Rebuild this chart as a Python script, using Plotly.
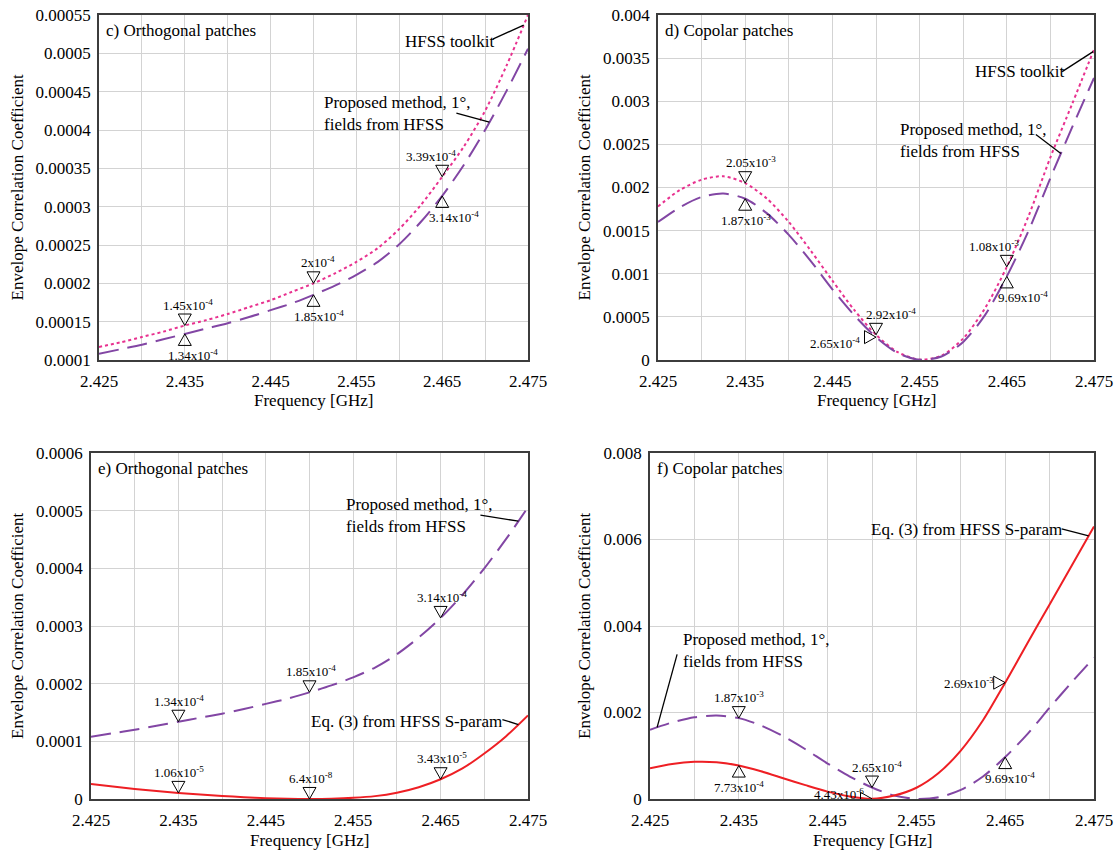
import numpy as np
import plotly.graph_objects as go

# ---------------- data ----------------
freq = [2.425, 2.4275, 2.43, 2.4325, 2.435, 2.4375, 2.44, 2.4425, 2.445, 2.4475,
        2.45, 2.4525, 2.455, 2.4575, 2.46, 2.4625, 2.465, 2.4675, 2.47, 2.4725, 2.475]

ortho_hfss = [0.000117, 0.000123, 0.000130, 0.000137, 0.000145, 0.000152, 0.000160, 0.000169, 0.000178, 0.000189,
              0.000200, 0.000213, 0.000228, 0.000246, 0.000271, 0.000302, 0.000339, 0.000378, 0.000425, 0.000484, 0.000550]
ortho_proposed = [0.000108, 0.000114, 0.000120, 0.000127, 0.000134, 0.000141, 0.000148, 0.000156, 0.000165, 0.000174,
                  0.000185, 0.000197, 0.000211, 0.000228, 0.000251, 0.000280, 0.000314, 0.000354, 0.000400, 0.000451, 0.000506]
ortho_eq3 = [0.0000260, 0.0000215, 0.0000175, 0.0000138, 0.0000106, 0.0000078, 0.0000053, 0.0000032, 0.0000015, 0.0000004,
             0.000000064, 0.0000005, 0.0000020, 0.0000050, 0.0000110, 0.0000205, 0.0000343, 0.0000530, 0.0000790, 0.0001090, 0.0001450]

copol_hfss = [0.00178, 0.00197, 0.00209, 0.00213, 0.00205, 0.00187, 0.00160, 0.00127, 0.00092, 0.00058,
              0.000292, 0.00009, 0.000005, 0.00005, 0.00025, 0.00060, 0.00108, 0.00167, 0.00235, 0.00297, 0.00360]
copol_proposed = [0.00160, 0.00177, 0.00189, 0.00193, 0.00187, 0.00170, 0.00145, 0.00115, 0.00082, 0.00052,
                  0.000265, 0.00008, 0.000003, 0.00004, 0.00021, 0.00052, 0.000969, 0.00150, 0.00211, 0.00270, 0.00327]
copol_eq3 = [0.00071, 0.00081, 0.00086, 0.00085, 0.000773, 0.00064, 0.00048, 0.00032, 0.00017, 0.00006,
             0.0000044, 0.00008, 0.00026, 0.00060, 0.00112, 0.00182, 0.00269, 0.00360, 0.00450, 0.00540, 0.00630]

x_tickvals = [2.425, 2.435, 2.445, 2.455, 2.465, 2.475]
x_ticktext = ["2.425", "2.435", "2.445", "2.455", "2.465", "2.475"]
x_minorvals = [2.43, 2.44, 2.45, 2.46, 2.47]

c_yticks = [0.0001, 0.00015, 0.0002, 0.00025, 0.0003, 0.00035, 0.0004, 0.00045, 0.0005, 0.00055]
c_ytext = ["0.0001", "0.00015", "0.0002", "0.00025", "0.0003", "0.00035", "0.0004", "0.00045", "0.0005", "0.00055"]
d_yticks = [0, 0.0005, 0.001, 0.0015, 0.002, 0.0025, 0.003, 0.0035, 0.004]
d_ytext = ["0", "0.0005", "0.001", "0.0015", "0.002", "0.0025", "0.003", "0.0035", "0.004"]
e_yticks = [0, 0.0001, 0.0002, 0.0003, 0.0004, 0.0005, 0.0006]
e_ytext = ["0", "0.0001", "0.0002", "0.0003", "0.0004", "0.0005", "0.0006"]
f_yticks = [0, 0.002, 0.004, 0.006, 0.008]
f_ytext = ["0", "0.002", "0.004", "0.006", "0.008"]

panel_titles = ["c) Orthogonal patches", "d) Copolar patches", "e) Orthogonal patches", "f) Copolar patches"]
x_title = "Frequency [GHz]"
y_title = "Envelope Correlation Coefficient"

# marker labels
c_hfss_labels = ["1.45x10<sup>-4</sup>", "2x10<sup>-4</sup>", "3.39x10<sup>-4</sup>"]
c_prop_labels = ["1.34x10<sup>-4</sup>", "1.85x10<sup>-4</sup>", "3.14x10<sup>-4</sup>"]
d_hfss_labels = ["2.05x10<sup>-3</sup>", "2.92x10<sup>-4</sup>", "1.08x10<sup>-3</sup>"]
d_prop_labels = ["1.87x10<sup>-3</sup>", "2.65x10<sup>-4</sup>", "9.69x10<sup>-4</sup>"]
e_prop_labels = ["1.34x10<sup>-4</sup>", "1.85x10<sup>-4</sup>", "3.14x10<sup>-4</sup>"]
e_eq3_labels = ["1.06x10<sup>-5</sup>", "6.4x10<sup>-8</sup>", "3.43x10<sup>-5</sup>"]
f_prop_labels = ["1.87x10<sup>-3</sup>", "2.65x10<sup>-4</sup>", "9.69x10<sup>-4</sup>"]
f_eq3_labels = ["7.73x10<sup>-4</sup>", "4.43x10<sup>-6</sup>", "2.69x10<sup>-3</sup>"]
marker_freqs = [2.435, 2.45, 2.465]

# ---------------- styling ----------------
W, H = 1116, 851
FONT = "'Liberation Serif', 'Times New Roman', Times, serif"
PINK = "#e8318f"
PURPLE = "#8246a4"
RED = "#ee1f24"
GRID = "#d3d3d3"
FRAME = "#3c3c3c"

# pixel boxes of the four plot areas: left, top, right, bottom
boxes = [(99, 15, 528, 360), (658, 15, 1094, 360), (91, 453, 528, 799), (650, 453, 1094, 799)]
ytitle_x = [17, 584, 17, 584]
yranges = [[0.0001, 0.00055], [0, 0.004], [0, 0.0006], [0, 0.008]]
yticks = [(c_yticks, c_ytext), (d_yticks, d_ytext), (e_yticks, e_ytext), (f_yticks, f_ytext)]

fig = go.Figure()


def ax_ids(k):
    s = "" if k == 0 else str(k + 1)
    return "x" + s, "y" + s


def add_curve(k, yvals, color, dash, width=2):
    xa, ya = ax_ids(k)
    fig.add_trace(go.Scatter(x=freq, y=yvals, mode="lines", xaxis=xa, yaxis=ya,
                             line=dict(color=color, width=width, dash=dash, shape="spline", smoothing=0.8),
                             hoverinfo="skip", showlegend=False))


DOT = "dot"
DASH = "20px,9px"
add_curve(0, ortho_hfss, PINK, DOT)
add_curve(0, ortho_proposed, PURPLE, DASH)
add_curve(1, copol_hfss, PINK, DOT)
add_curve(1, copol_proposed, PURPLE, DASH)
add_curve(2, ortho_proposed, PURPLE, DASH)
add_curve(2, ortho_eq3, RED, "solid")
add_curve(3, copol_proposed, PURPLE, DASH)
add_curve(3, copol_eq3, RED, "solid")

layout = dict(width=W, height=H, margin=dict(l=0, r=0, t=0, b=0, autoexpand=False),
              paper_bgcolor="white", plot_bgcolor="white", showlegend=False,
              font=dict(family=FONT, size=17, color="black"))

shapes = []
annotations = []
TFONT = dict(family=FONT, size=17, color="black")

for k, (l, t, r, b) in enumerate(boxes):
    xa, ya = ax_ids(k)
    xkey = "xaxis" + ("" if k == 0 else str(k + 1))
    ykey = "yaxis" + ("" if k == 0 else str(k + 1))
    layout[xkey] = dict(domain=[l / W, r / W], anchor=ya, range=[2.425, 2.475], automargin=False,
                        tickmode="array", tickvals=x_tickvals, ticktext=x_ticktext,
                        minor=dict(tickmode="array", tickvals=x_minorvals, showgrid=True,
                                   gridcolor=GRID, gridwidth=1, ticks=""),
                        showgrid=True, gridcolor=GRID, gridwidth=1, zeroline=False,
                        showline=True, mirror=True, linecolor=FRAME, linewidth=1.5,
                        ticks="", ticklabelstandoff=5, tickfont=TFONT)
    tv, tt = yticks[k]
    layout[ykey] = dict(domain=[1 - b / H, 1 - t / H], anchor=xa, range=yranges[k], automargin=False,
                        tickmode="array", tickvals=tv, ticktext=tt,
                        showgrid=True, gridcolor=GRID, gridwidth=1, zeroline=False,
                        showline=True, mirror=True, linecolor=FRAME, linewidth=1.5,
                        ticks="", ticklabelstandoff=3, tickfont=TFONT)
    # axis titles
    annotations.append(dict(text=x_title, xref="paper", yref="paper", x=(l + r) / 2 / W,
                            y=1 - (b + 41) / H, xanchor="center", yanchor="middle",
                            showarrow=False, font=TFONT))
    annotations.append(dict(text=y_title, xref="paper", yref="paper", x=ytitle_x[k] / W,
                            y=1 - (t + b) / 2 / H, xanchor="center", yanchor="middle", textangle=-90,
                            showarrow=False, font=TFONT))

fig.update_layout(**layout)

# panel titles
for k, title in enumerate(panel_titles):
    xa, ya = ax_ids(k)
    annotations.append(dict(text=title, xref=xa + " domain", yref=ya + " domain",
                            x=0.012, y=0.955, xanchor="left", yanchor="middle", showarrow=False,
                            font=TFONT))

TRI_PATHS = {
    "down": "M-6.5,11.5 L6.5,11.5 L0,0 Z",
    "up": "M-6.5,-11.5 L6.5,-11.5 L0,0 Z",
    "right": "M-11.5,-6.5 L-11.5,6.5 L0,0 Z",
}


def add_marker(k, series, fx, kind, label, dx=0, dy=0):
    xa, ya = ax_ids(k)
    yv = series[freq.index(fx)]
    shapes.append(dict(type="path", xref=xa, yref=ya, xsizemode="pixel", ysizemode="pixel",
                       xanchor=fx, yanchor=yv, path=TRI_PATHS[kind],
                       line=dict(color="black", width=1), fillcolor="rgba(0,0,0,0)"))
    a = dict(text=label, xref=xa, yref=ya, x=fx, y=yv, showarrow=False,
             font=dict(family=FONT, size=13, color="black"), borderpad=0)
    if kind == "down":
        a.update(xanchor="center", yanchor="bottom", yshift=12 + dy, xshift=dx)
    elif kind == "up":
        a.update(xanchor="center", yanchor="top", yshift=-12 + dy, xshift=dx)
    else:
        a.update(xanchor="right", yanchor="middle", xshift=-12 + dx, yshift=dy)
    annotations.append(a)


# c
for fx, lab, dx in zip(marker_freqs, c_hfss_labels, [3, 4, -11]):
    add_marker(0, ortho_hfss, fx, "down", lab, dx)
for fx, lab, dx in zip(marker_freqs, c_prop_labels, [8, 5, 12]):
    add_marker(0, ortho_proposed, fx, "up", lab, dx)
# d
add_marker(1, copol_hfss, 2.435, "down", d_hfss_labels[0], 6)
add_marker(1, copol_hfss, 2.45, "down", d_hfss_labels[1], 15)
add_marker(1, copol_hfss, 2.465, "down", d_hfss_labels[2], -13)
add_marker(1, copol_proposed, 2.435, "up", d_prop_labels[0], 1)
add_marker(1, copol_proposed, 2.45, "right", d_prop_labels[1], -3, -6)
add_marker(1, copol_proposed, 2.465, "up", d_prop_labels[2], 16)
# e
for fx, lab in zip(marker_freqs, e_prop_labels):
    add_marker(2, ortho_proposed, fx, "down", lab, 1)
for fx, lab in zip(marker_freqs, e_eq3_labels):
    add_marker(2, ortho_eq3, fx, "down", lab, 1)
# f
add_marker(3, copol_proposed, 2.435, "down", f_prop_labels[0], 0)
add_marker(3, copol_proposed, 2.45, "down", f_prop_labels[1], 5)
add_marker(3, copol_proposed, 2.465, "up", f_prop_labels[2], 5)
add_marker(3, copol_eq3, 2.435, "up", f_eq3_labels[0], 0)
add_marker(3, copol_eq3, 2.45, "right", f_eq3_labels[1], 5, 5)
add_marker(3, copol_eq3, 2.465, "right", f_eq3_labels[2], 2, 0)


def add_callout(k, text, tx, ty, series, ex, dx, dy):
    """text at (tx, ty) in data units, leader line from curve point at ex with pixel offset (dx, dy up)."""
    xa, ya = ax_ids(k)
    annotations.append(dict(text=text, xref=xa, yref=ya, x=tx, y=ty, xanchor="left", yanchor="middle",
                            align="left", showarrow=False, font=TFONT))
    ey = float(np.interp(ex, freq, series))
    shapes.append(dict(type="line", xref=xa, yref=ya, xsizemode="pixel", ysizemode="pixel",
                       xanchor=ex, yanchor=ey, x0=0, y0=0, x1=dx, y1=dy,
                       line=dict(color="black", width=1.3)))


PROP = "Proposed method, 1°,<br>fields from HFSS"
add_callout(0, "HFSS toolkit", 2.4604, 0.000516, ortho_hfss, 2.4745, -31, -14)
add_callout(0, PROP, 2.451, 0.000421, ortho_proposed, 2.4705, -33, 9)
add_callout(1, "HFSS toolkit", 2.4611, 0.00334, copol_hfss, 2.4749, -31, -20)
add_callout(1, PROP, 2.4525, 0.00254, copol_proposed, 2.4712, -25, 19)
add_callout(2, PROP, 2.4539, 0.000491, ortho_proposed, 2.4739, -38, 6)
add_callout(2, "Eq. (3) from HFSS S-param", 2.4499, 0.000135, ortho_eq3, 2.4739, -16, 5)
add_callout(3, "Eq. (3) from HFSS S-param", 2.4497, 0.00624, copol_eq3, 2.4744, -27, 7)
add_callout(3, PROP, 2.4285, 0.003445, copol_proposed, 2.4258, 20, 73)

fig.update_layout(shapes=shapes, annotations=annotations)

fig.write_html("out.html", config={"displayModeBar": False},
               post_script="document.body.style.margin='0px';")
